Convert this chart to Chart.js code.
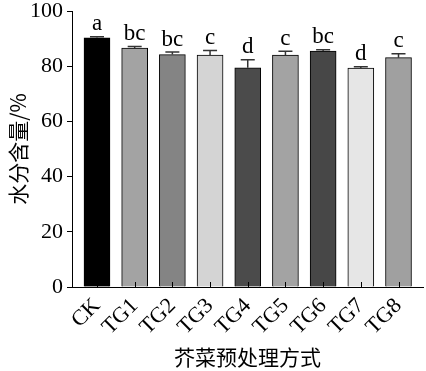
<!DOCTYPE html>
<html>
<head>
<meta charset="utf-8">
<script src="https://cdn.jsdelivr.net/npm/chart.js@4"></script>
<style>
html, body { margin: 0; padding: 0; background: #fff; }
#wrap { width: 426px; height: 371px; }
</style>
</head>
<body>
<div id="wrap"><canvas id="graphique"></canvas></div>
<script>
const labels = ["CK", "TG1", "TG2", "TG3", "TG4", "TG5", "TG6", "TG7", "TG8"];
const values = [90.3, 86.6, 84.2, 84.0, 79.4, 84.0, 85.5, 79.3, 83.1];
const errors = [0.4, 0.5, 0.9, 1.7, 2.9, 1.4, 0.5, 0.5, 1.4];
const letters = ["a", "bc", "bc", "c", "d", "c", "bc", "d", "c"];
const couleurs = ["#000000", "#a3a3a3", "#848484", "#d4d4d4", "#4b4b4b", "#a3a3a3", "#474747", "#e6e6e6", "#a0a0a0"];

const serif = "'Liberation Serif', 'Times New Roman', serif";
const cjk = "'Noto Sans CJK SC', sans-serif";

// barres d'erreur, petits traits internes de l'axe x, lettres
const pluginErreurs = {
    id: "erreurs",
    afterDatasetsDraw(chart) {
        const ctx = chart.ctx;
        const x = chart.scales.x, y = chart.scales.y;
        ctx.save();
        ctx.strokeStyle = "#000";
        ctx.lineWidth = 1;
        const base = y.getPixelForValue(0);
        for (let i = 0; i < values.length; i++) {
            const px = Math.round(x.getPixelForValue(i)) + 0.5;
            ctx.beginPath();
            ctx.moveTo(px, base);
            ctx.lineTo(px, base - 5);
            ctx.stroke();
        }
        ctx.strokeStyle = "#333";
        ctx.lineWidth = 1.5;
        ctx.fillStyle = "#000";
        ctx.font = "23px " + serif;
        ctx.textAlign = "center";
        ctx.textBaseline = "bottom";
        for (let i = 0; i < values.length; i++) {
            const px = x.getPixelForValue(i);
            const haut = y.getPixelForValue(values[i] + errors[i]);
            const barre = y.getPixelForValue(values[i]);
            ctx.beginPath();
            ctx.moveTo(px, barre);
            ctx.lineTo(px, haut);
            ctx.moveTo(px - 7, haut);
            ctx.lineTo(px + 7, haut);
            ctx.stroke();
            ctx.fillText(letters[i], px, haut - 1);
        }
        ctx.restore();
    }
};

const data = {
    datasets: [{
        data: values.map((v, i) => ({ x: i, y: v })),
        backgroundColor: couleurs,
        borderColor: "#000",
        borderWidth: 1,
        barThickness: 26,
    }],
};

const config = {
    type: "bar",
    data: data,
    options: {
        responsive: true,
        maintainAspectRatio: false,
        animation: false,
        layout: { padding: { top: 11, right: 3, left: 0, bottom: 0 } },
        plugins: {
            legend: { display: false },
            tooltip: { enabled: false },
        },
        scales: {
            x: {
                type: "linear",
                offset: false,
                min: -0.663,
                max: 8.65,
                afterBuildTicks: (scale) => { scale.ticks = labels.map((l, i) => ({ value: i })); },
                afterFit: (scale) => {
                    scale.height = 84;
                    scale.paddingLeft = 0;
                    scale.paddingRight = 0;
                },
                grid: { display: true, drawOnChartArea: false, drawTicks: false },
                border: { display: true, color: "#000", width: 1 },
                ticks: {
                    minRotation: 45,
                    maxRotation: 45,
                    autoSkip: false,
                    padding: 6,
                    color: "#000",
                    font: { family: serif, size: 22 },
                    callback: (v) => labels[v],
                },
                title: {
                    display: true,
                    text: "芥菜预处理方式",
                    color: "#000",
                    font: { family: cjk, size: 21 },
                    padding: { top: 0, bottom: 1 },
                },
            },
            y: {
                min: 0,
                max: 100,
                afterFit: (scale) => {
                    scale.width = 72;
                    scale.paddingTop = 0;
                    scale.paddingBottom = 0;
                },
                grid: { display: true, drawOnChartArea: false, tickLength: 5, color: "#000" },
                border: { display: true, color: "#000", width: 1 },
                ticks: {
                    stepSize: 20,
                    padding: 4,
                    color: "#000",
                    font: { family: serif, size: 22 },
                },
                title: {
                    display: true,
                    text: "水分含量/%",
                    color: "#000",
                    font: { family: cjk, size: 21 },
                    padding: { top: 5, bottom: 0 },
                },
            },
        },
    },
    plugins: [pluginErreurs],
};

const graphique = new Chart(document.querySelector("#graphique"), config);
</script>
</body>
</html>
